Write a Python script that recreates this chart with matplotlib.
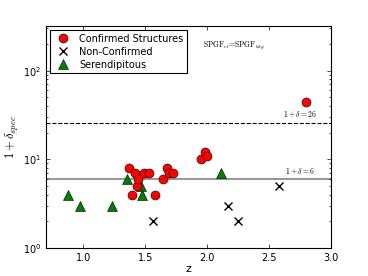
import numpy as np
import matplotlib
matplotlib.use('Agg')
import matplotlib.pyplot as plt

plt.rcParams['mathtext.fontset'] = 'cm'
plt.rcParams['xtick.direction'] = 'in'
plt.rcParams['ytick.direction'] = 'in'
plt.rcParams['xtick.top'] = True
plt.rcParams['ytick.right'] = True

# confirmed structures
conf_z = [1.367, 1.391, 1.421, 1.432, 1.443, 1.488, 1.529, 1.580,
          1.644, 1.674, 1.693, 1.722, 1.948, 1.986, 1.999, 2.798]
conf_d = [8, 4, 7, 5, 6, 7, 7, 4, 6, 8, 7, 7, 10, 12, 11, 44]

# non-confirmed
nonc_z = [1.566, 2.164, 2.252, 2.578]
nonc_d = [2, 3, 2, 5]

# serendipitous
ser_z = [0.875, 0.974, 1.235, 1.351, 1.464, 1.477, 2.115]
ser_d = [4, 3, 3, 6, 5, 4, 7]

thr_hi = 26
thr_lo = 6

fig = plt.figure(figsize=(3.68, 2.76), dpi=100)
ax = fig.add_axes([0.125, 0.101, 0.775, 0.805])

ax.axhline(thr_hi, color='k', lw=0.8, ls='--', zorder=1)
ax.axhline(thr_lo, color='0.6', lw=1.5, zorder=1)

ax.plot(conf_z, conf_d, 'o', color='red', mec='k', mew=0.4, ms=6.5,
        ls='none', label='Confirmed Structures', zorder=3)
ax.plot(nonc_z, nonc_d, 'x', color='k', mew=1.0, ms=6,
        ls='none', label='Non-Confirmed', zorder=3)
ax.plot(ser_z, ser_d, '^', color='green', mec='k', mew=0.4, ms=6.5,
        ls='none', label='Serendipitous', zorder=2)

ax.text(2.75, thr_hi * 1.06, r'$1+\delta=26$', fontsize=5.5, ha='center', va='bottom')
ax.text(2.75, thr_lo * 1.06, r'$1+\delta=6$', fontsize=5.5, ha='center', va='bottom')
ax.text(0.66, 0.915, r'$\mathrm{SPGF}_{cl}\!=\!\mathrm{SPGF}_{bkg}$', fontsize=5.5,
        ha='center', va='center', transform=ax.transAxes)

ax.set_yscale('log')
ax.set_xlim(0.7, 3.0)
ax.set_ylim(1, 320)
ax.set_xticks([1.0, 1.5, 2.0, 2.5, 3.0])
ax.tick_params(labelsize=7, length=3, width=0.5)
ax.tick_params(which='minor', length=1.5, width=0.5)
ax.set_xlabel('z', fontsize=8, labelpad=1)
ax.set_ylabel(r'$1+\delta_{spec}$', fontsize=9, labelpad=1)
for s in ax.spines.values():
    s.set_linewidth(0.8)

leg = ax.legend(loc='upper left', fontsize=7, numpoints=1, fancybox=False,
                handletextpad=0.6, borderpad=0.4, labelspacing=0.3,
                borderaxespad=0.4, framealpha=1)
leg.get_frame().set_edgecolor('k')
leg.get_frame().set_linewidth(0.8)

fig.savefig('out.png', dpi=100, facecolor='white')
